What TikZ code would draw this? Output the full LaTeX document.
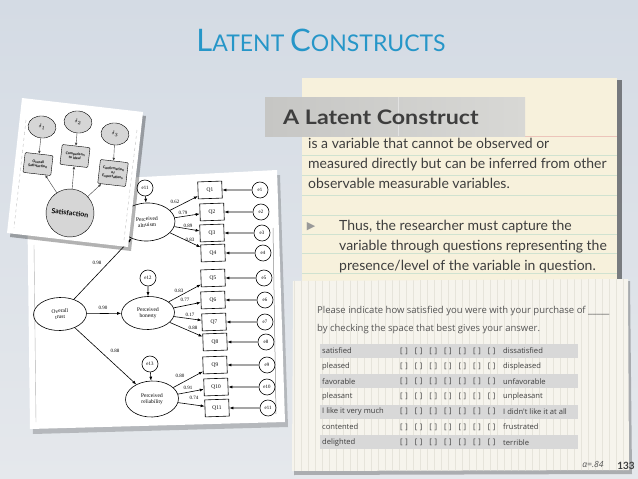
\documentclass[tikz,border=0pt]{standalone}
\usepackage{fontspec}
\setmainfont{Lato}
\newfontfamily\semfont{Liberation Serif}
\newfontfamily\cardfont{Open Sans}
\newfontfamily\symbfont{DejaVu Sans}
\usetikzlibrary{shapes.geometric,arrows.meta}

\definecolor{slidetop}{RGB}{212,219,228}
\definecolor{slidebot}{RGB}{229,232,236}
\definecolor{titleblue}{RGB}{38,150,200}
\definecolor{notepaper}{RGB}{247,241,220}
\definecolor{ruleline}{RGB}{208,226,208}
\definecolor{redline}{RGB}{236,196,186}
\definecolor{tapeleft}{RGB}{198,198,196}
\definecolor{taperight}{RGB}{216,216,213}
\definecolor{cardpaper}{RGB}{246,244,237}
\definecolor{gridline}{RGB}{230,228,219}
\definecolor{rowgray}{RGB}{216,216,216}
\definecolor{inkgray}{RGB}{62,62,62}
\definecolor{cardink}{RGB}{85,85,85}
\definecolor{nodegray}{RGB}{214,214,214}

\newcommand{\pairmark}{[\hspace{2.6pt}]}
\newcommand{\scalemarks}{\pairmark\hspace{7pt}\pairmark\hspace{7pt}\pairmark\hspace{7pt}\pairmark\hspace{7pt}\pairmark\hspace{7pt}\pairmark\hspace{7pt}\pairmark}

\begin{document}
\begin{tikzpicture}[x=1pt,y=-1pt,
  lat/.style={draw, ellipse, line width=0.6pt, minimum width=53, minimum height=33, inner sep=0, align=center, font=\semfont\fontsize{5.5}{6}\selectfont, rotate=2},
  obs/.style={draw, rectangle, line width=0.6pt, minimum width=24, minimum height=17, inner sep=0, font=\semfont\fontsize{5.5}{6}\selectfont, rotate=2},
  err/.style={draw, circle, line width=0.6pt, minimum size=16, inner sep=0, font=\semfont\fontsize{5}{5}\selectfont, rotate=2},
  coef/.style={font=\semfont\fontsize{5}{5}\selectfont, inner sep=1},
  semarrow/.style={-{Latex[length=4pt,width=3pt]}, line width=0.6pt},
  delta/.style={draw, ellipse, fill=nodegray, minimum width=28, minimum height=22, inner sep=0, rotate=-6.5, font=\fontsize{5}{5}\selectfont},
  ind/.style={draw, rectangle, rounded corners=1, fill=nodegray, minimum width=28, minimum height=20, inner sep=1, align=center, rotate=-6.5, font=\bfseries\fontsize{3.6}{4}\selectfont},
  satcircle/.style={draw, circle, fill=nodegray, minimum size=48, inner sep=0, rotate=-6.5, font=\bfseries\fontsize{7}{7}\selectfont},
  smallarrow/.style={-{Latex[length=3pt,width=2.5pt]}, line width=0.4pt, draw=black!75},
  body/.style={inner sep=0, align=left, text=inkgray, font=\fontsize{14}{19.8}\selectfont},
  cardtext/.style={inner sep=0, text=cardink, font=\cardfont\fontsize{9.5}{9.5}\selectfont},
  rowtext/.style={inner sep=0, text=inkgray, font=\cardfont\fontsize{7.6}{7.6}\selectfont}]

  \useasboundingbox (0,0) rectangle (638,479);

  % slide
  \shade[top color=slidetop, bottom color=slidebot] (0,0) rectangle (638,479);
  \node[text=titleblue, inner sep=0] (title) at (321,40)
    {\fontsize{31}{31}\selectfont L\fontsize{23}{23}\selectfont ATENT
     \fontsize{31}{31}\selectfont C\fontsize{23}{23}\selectfont ONSTRUCTS};

  % note paper
  \fill[black, opacity=0.45] (614,80) rectangle (622,468);
  \fill[notepaper] (302,78) rectangle (617,470);
  \foreach \y in {155,175,195,215,234,253,273}
    \draw[ruleline, line width=0.6pt] (302,\y) -- (617,\y);
  \draw[redline, line width=0.8pt] (302,136) -- (617,136);

  % tape
  \shade[left color=tapeleft, right color=taperight] (265,97) rectangle (525,136);
  \draw[white, opacity=0.4] (398,97) -- (398,136);
  \node[anchor=base west, inner sep=0, text=inkgray, font=\bfseries\fontsize{20}{20}\selectfont] (head) at (283,124) {\scalebox{1.16}[1]{A Latent Construct}};

  \node[body, anchor=north west] (def) at (308,138)
    {is a variable that cannot be observed or\\
     measured directly but can be inferred from other\\
     observable measurable variables.};
  \node[inner sep=0, text=black!40, font=\symbfont\fontsize{11}{11}\selectfont] (bul) at (311,227) {▶};
  \node[body, anchor=north west] (thus) at (339,220)
    {Thus, the researcher must capture the\\
     variable through questions representing the\\
     presence/level of the variable in question.};

  % grid card
  \fill[black, opacity=0.25] (295,284) -- (630,281) -- (632,474) -- (294,475) -- cycle;
  \fill[cardpaper] (293,281) -- (628,279) -- (629,470) -- (292,471) -- cycle;
  \begin{scope}
    \clip (293,281) -- (628,279) -- (629,470) -- (292,471) -- cycle;
    \draw[gridline, line width=0.4pt, step=7] (292,279) grid (630,472);
  \end{scope}

  \node[cardtext, anchor=base west] (ask) at (317,313)
    {Please indicate how satisfied you were with your purchase of \_\_\_\_\_};
  \node[cardtext, anchor=base west] (ask2) at (317,331)
    {by checking the space that best gives your answer.};

  \foreach \lft/\rgt [count=\i] in {satisfied/dissatisfied, pleased/displeased,
      favorable/unfavorable, pleasant/unpleasant,
      I like it very much/I didn't like it at all, contented/frustrated,
      delighted/terrible} {
    \pgfmathsetmacro\ry{351+(\i-1)*15.2}
    \ifodd\i \fill[rowgray] (320,\ry-7) rectangle (578,\ry+7); \fi
    \node[rowtext, anchor=west] (l\i) at (322,\ry) {\lft};
    \node[rowtext, anchor=west] (s\i) at (400,\ry) {\scalemarks};
    \node[rowtext, anchor=west] (r\i) at (503,\ry) {\rgt};
  }

  \node[inner sep=0, text=cardink, font=\cardfont\itshape\fontsize{8.5}{8.5}\selectfont] (alpha) at (593,464) {α=.84};
  \node[inner sep=0, text=inkgray, font=\bfseries\fontsize{10}{10}\selectfont] (page) at (626,466) {133};

  % SEM paper
  \fill[black, opacity=0.2] (30,188) -- (280,175) -- (288,427) -- (33,434) -- cycle;
  \fill[white] (27,183) -- (277,170) -- (285,422) -- (30,429) -- cycle;
  \draw[black!30, line width=0.4pt] (34,245) -- (36,422);
  \draw[black!45, line width=0.5pt] (273,228) -- (276,414);

  \node[lat] (trust) at (60,314) {Overall\\trust};
  \node[lat, minimum width=56, minimum height=38] (alt) at (147,222) {Perceived\\altruism};
  \node[lat] (hon) at (148,313) {Perceived\\honesty};
  \node[lat, minimum height=36] (rel) at (152,399) {Perceived\\reliability};

  \node[err] (e11) at (145,188) {e11};
  \node[err] (e12) at (148,278) {e12};
  \node[err] (e13) at (150,364) {e13};

  \draw[semarrow] (e11) -- (alt);
  \draw[semarrow] (e12) -- (hon);
  \draw[semarrow] (e13) -- (rel);

  \foreach \n/\qx/\qy/\ex in {1/210/190/260, 2/212/212/261, 3/212/233/262, 4/213/253/263,
      5/213/278/264, 6/213/300/265, 7/214/322/265, 8/215/342/266,
      9/215/365/267, 10/216/387/267, 11/217/408/268} {
    \node[obs] (q\n) at (\qx,\qy) {Q\n};
    \node[err] (e\n) at (\ex,\qy) {e\n};
    \draw[semarrow] (e\n) -- (q\n);
  }

  \foreach \q in {1,2,3,4} \draw[semarrow] (alt) -- (q\q);
  \foreach \q in {5,6,7,8} \draw[semarrow] (hon) -- (q\q);
  \foreach \q in {9,10,11} \draw[semarrow] (rel) -- (q\q);

  \draw[semarrow] (trust) -- (alt);
  \draw[semarrow] (trust) -- (hon);
  \draw[semarrow] (trust) -- (rel);

  \node[coef] (c98) at (97,263) {0.98};
  \node[coef] (c90) at (103,308) {0.90};
  \node[coef] (c88) at (115,351) {0.88};
  \node[coef] at (175,202) {0.62};
  \node[coef] at (183,213) {0.79};
  \node[coef] at (188,226) {0.89};
  \node[coef] at (190,240) {0.83};
  \node[coef] at (179,291) {0.83};
  \node[coef] at (185,300) {0.77};
  \node[coef] at (190,315) {0.17};
  \node[coef] at (193,328) {0.88};
  \node[coef] at (180,376) {0.80};
  \node[coef] at (188,388) {0.91};
  \node[coef] at (194,398) {0.74};

  % satisfaction sheet
  \fill[black, opacity=0.3] (25,102) -- (146,116) -- (131,251) -- (10,237) -- cycle;
  \fill[white] (22,98) -- (143,112) -- (128,247) -- (7,233) -- cycle;
  \draw[black!25, dashed, line width=0.4pt] (26,120) -- (14,228);
  \draw[black!25, dashed, line width=0.4pt] (137,130) -- (124,240);

  \node[delta] (d1) at (42,127) {$\delta_1$};
  \node[delta] (d2) at (78,122) {$\delta_2$};
  \node[delta] (d3) at (115,134) {$\delta_3$};
  \node[ind] (b1) at (38,164) {Overall\\Satisfaction};
  \node[ind] (b2) at (75,156) {Comparison\\to Ideal};
  \node[ind, minimum height=24] (b3) at (113,173) {Confirmation\\of\\Expectations};
  \node[satcircle] (sat) at (70,213) {Satisfaction};

  \draw[smallarrow] (d1) -- (b1);
  \draw[smallarrow] (d2) -- (b2);
  \draw[smallarrow] (d3) -- (b3);
  \draw[smallarrow] (sat) -- (b1);
  \draw[smallarrow] (sat) -- (b2);
  \draw[smallarrow] (sat) -- (b3);

\end{tikzpicture}
\end{document}
